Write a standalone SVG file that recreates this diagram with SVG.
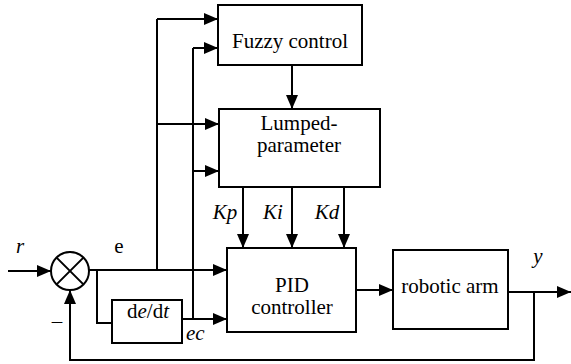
<svg xmlns="http://www.w3.org/2000/svg" width="571" height="364" viewBox="0 0 571 364">
<defs>
<marker id="ah" markerUnits="userSpaceOnUse" markerWidth="14" markerHeight="12" refX="14" refY="6" orient="auto">
<path d="M0,0 L14,6 L0,12 z" fill="#000"/>
</marker>
<style>
.box{fill:#fff;stroke:#000;stroke-width:2}
.ln{fill:none;stroke:#000;stroke-width:2}
.ar{fill:none;stroke:#000;stroke-width:2;marker-end:url(#ah)}
text{font-family:"Liberation Serif","Times New Roman",serif;font-size:21px;fill:#000}
.it{font-style:italic}
</style>
</defs>
<rect width="571" height="364" fill="#fff"/>
<g id="connectors">
<path class="ar" d="M8,271 L51,271"/>
<path class="ar" d="M89,270 L227,270"/>
<path class="ln" d="M97,270 L97,323 L112,323"/>
<path class="ar" d="M182,319 L227,319"/>
<path class="ln" d="M157,270 L157,19"/>
<path class="ar" d="M157,19 L218,19"/>
<path class="ar" d="M157,124 L219,124"/>
<path class="ln" d="M193,319 L193,48"/>
<path class="ar" d="M193,48 L218,48"/>
<path class="ar" d="M193,171 L219,171"/>
<path class="ar" d="M292,65 L292,109"/>
<path class="ar" d="M243,187 L243,248"/>
<path class="ar" d="M292,187 L292,248"/>
<path class="ar" d="M344,187 L344,248"/>
<path class="ar" d="M356,290 L393,290"/>
<path class="ar" d="M508,292 L571,292"/>
<path class="ln" d="M534,292 L534,360 L70,360"/>
<path class="ar" d="M70,361 L70,290"/>
</g>
<g id="sum">
<circle cx="70" cy="271" r="19" fill="#fff" stroke="#000" stroke-width="2"/>
<path class="ln" d="M56.6,257.6 L83.4,284.4 M83.4,257.6 L56.6,284.4"/>
</g>
<g id="fuzzy">
<rect class="box" x="218" y="5" width="144" height="60"/>
<text x="290" y="48" text-anchor="middle">Fuzzy control</text>
</g>
<g id="lumped">
<rect class="box" x="219" y="109" width="161" height="78"/>
<text x="299" y="130" text-anchor="middle">Lumped-</text>
<text x="299" y="152" text-anchor="middle">parameter</text>
</g>
<g id="pid">
<rect class="box" x="227" y="248" width="129" height="84"/>
<text x="292" y="292" text-anchor="middle">PID</text>
<text x="292" y="314" text-anchor="middle">controller</text>
</g>
<g id="arm">
<rect class="box" x="393" y="250" width="115" height="79"/>
<text x="450" y="293" text-anchor="middle">robotic arm</text>
</g>
<g id="deriv">
<rect class="box" x="112" y="300" width="70" height="43"/>
<text x="148" y="318" text-anchor="middle">d<tspan class="it">e</tspan>/d<tspan class="it">t</tspan></text>
</g>
<g id="labels">
<text x="20" y="253" class="it" text-anchor="middle">r</text>
<text x="119" y="253" text-anchor="middle">e</text>
<text x="186" y="340" class="it">ec</text>
<text x="225" y="219" class="it" text-anchor="middle">Kp</text>
<text x="273" y="219" class="it" text-anchor="middle">Ki</text>
<text x="327" y="219" class="it" text-anchor="middle">Kd</text>
<text x="538" y="263" class="it" text-anchor="middle">y</text>
<text x="57" y="328" text-anchor="middle">–</text>
</g>
</svg>
